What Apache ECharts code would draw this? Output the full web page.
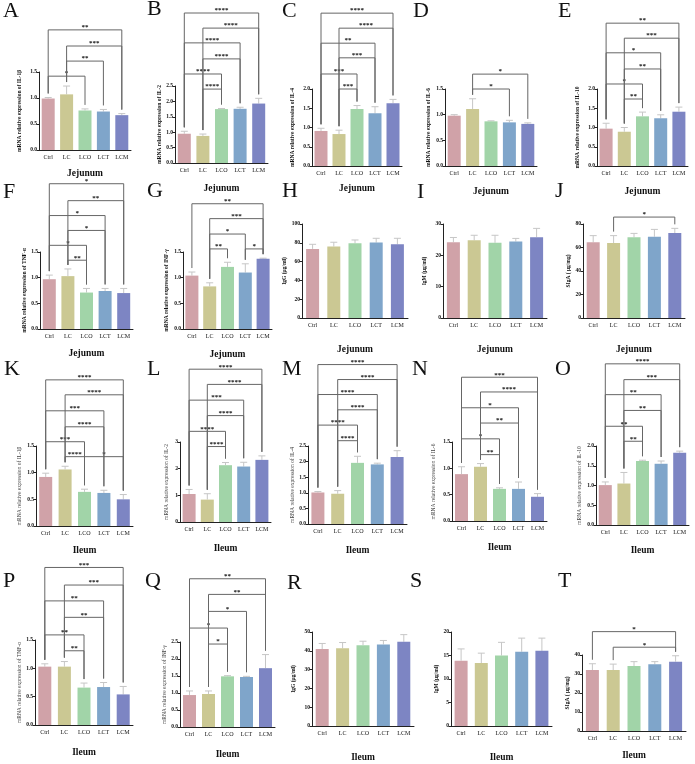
<!DOCTYPE html>
<html>
<head>
<meta charset="utf-8">
<title>Jejunum / Ileum</title>
<script src="https://cdn.jsdelivr.net/npm/echarts@6/dist/echarts.min.js"></script>
<style>
html, body { margin: 0; padding: 0; background: #fff; }
#main { width: 695px; height: 764px; }
</style>
</head>
<body>
<div id="main"></div>
<script>
var groups = ['Ctrl', 'LC', 'LCO', 'LCT', 'LCM'];
var letters = ['A', 'B', 'C', 'D', 'E', 'F', 'G', 'H', 'I', 'J', 'K', 'L', 'M', 'N', 'O', 'P', 'Q', 'R', 'S', 'T'];
var tissues = ['Jejunum', 'Jejunum', 'Jejunum', 'Jejunum', 'Jejunum', 'Jejunum', 'Jejunum', 'Jejunum', 'Jejunum', 'Jejunum',
	'Ileum', 'Ileum', 'Ileum', 'Ileum', 'Ileum', 'Ileum', 'Ileum', 'Ileum', 'Ileum', 'Ileum'];
var yTitles = [
	'mRNA relative expression of IL-1β', 'mRNA relative expression of IL-2', 'mRNA relative expression of IL-4',
	'mRNA relative expression of IL-6', 'mRNA relative expression of IL-10', 'mRNA relative expression of TNF-α',
	'mRNA relative expression of INF-γ', 'IgG (μg/ml)', 'IgM (μg/ml)', 'SIgA ( μg/mg)',
	'mRNA relative expression of IL-1β', 'mRNA relative expression of IL-2', 'mRNA relative expression of IL-4',
	'mRNA relative expression of IL-6', 'mRNA relative expression of IL-10', 'mRNA relative expression of TNF-α',
	'mRNA relative expression of INF-γ', 'IgG (μg/ml)', 'IgM (μg/ml)', 'SIgA ( μg/mg)'
];
var yMax = [1.5, 2.5, 2.0, 1.5, 2.0, 1.5, 1.5, 100, 30, 80, 1.5, 3, 2.5, 1.5, 2.0, 1.5, 2.5, 50, 20, 40];
var yStep = [0.5, 0.5, 0.5, 0.5, 0.5, 0.5, 0.5, 20, 10, 20, 0.5, 1, 0.5, 0.5, 0.5, 0.5, 0.5, 10, 5, 10];

// jejunum
var meanA = [0.99, 1.07, 0.76, 0.74, 0.67], errA = [0.02, 0.16, 0.03, 0.04, 0.03];
var meanB = [0.95, 0.88, 1.75, 1.76, 1.93], errB = [0.08, 0.06, 0.02, 0.05, 0.17];
var meanC = [0.91, 0.83, 1.48, 1.37, 1.63], errC = [0.07, 0.10, 0.09, 0.17, 0.10];
var meanD = [0.98, 1.11, 0.87, 0.85, 0.82], errD = [0.02, 0.20, 0.01, 0.04, 0.02];
var meanE = [0.97, 0.89, 1.29, 1.24, 1.41], errE = [0.14, 0.11, 0.11, 0.09, 0.12];
var meanF = [0.97, 1.03, 0.71, 0.74, 0.70], errF = [0.08, 0.14, 0.08, 0.05, 0.09];
var meanG = [1.04, 0.83, 1.21, 1.10, 1.37], errG = [0.07, 0.07, 0.09, 0.17, 0.01];
var meanH = [73.5, 76.0, 79.5, 80.2, 78.4], errH = [4.9, 4.6, 3.5, 4.6, 6.4];
var meanI = [24.2, 24.8, 24.0, 24.4, 25.8], errI = [1.5, 1.6, 2.4, 1.0, 2.8];
var meanJ = [64.4, 63.8, 68.7, 69.2, 72.3], errJ = [5.7, 6.3, 3.3, 6.2, 4.0];
// ileum
var meanK = [0.92, 1.06, 0.64, 0.62, 0.50], errK = [0.07, 0.06, 0.05, 0.05, 0.09];
var meanL = [1.05, 0.84, 2.13, 2.08, 2.33], errL = [0.17, 0.22, 0.10, 0.16, 0.15];
var meanM = [1.01, 0.97, 1.96, 1.91, 2.15], errM = [0.03, 0.10, 0.21, 0.04, 0.20];
var meanN = [0.89, 1.03, 0.61, 0.61, 0.46], errN = [0.14, 0.06, 0.02, 0.13, 0.06];
var meanO = [1.01, 1.05, 1.62, 1.55, 1.83], errO = [0.08, 0.28, 0.02, 0.07, 0.04];
var meanP = [1.03, 1.03, 0.66, 0.67, 0.54], errP = [0.05, 0.09, 0.08, 0.08, 0.14];
var meanQ = [0.94, 0.97, 1.49, 1.47, 1.73], errQ = [0.12, 0.09, 0.02, 0.02, 0.40];
var meanR = [40.9, 41.3, 43.0, 43.4, 44.8], errR = [3.0, 3.1, 2.1, 2.1, 3.8];
var meanS = [13.9, 13.4, 15.0, 15.8, 16.0], errS = [2.5, 2.1, 2.8, 2.9, 2.7];
var meanT = [32.1, 32.1, 34.2, 35.1, 36.5], errT = [3.3, 3.1, 2.3, 1.4, 3.1];

// significance brackets: [from group, to group, bracket height (axis units), stars]
var sigA = [[0, 2, 1.42, '*'], [1, 3, 1.71, '**'], [1, 4, 2.0, '***'], [0, 4, 2.31, '**']];
var sigB = [[1, 2, 2.40, '****'], [0, 2, 2.89, '****'], [1, 3, 3.38, '****'], [0, 3, 3.90, '****'], [1, 4, 4.38, '****'], [0, 4, 4.87, '****']];
var sigC = [[1, 2, 2.0, '***'], [0, 2, 2.39, '***'], [1, 3, 2.81, '***'], [0, 3, 3.19, '**'], [1, 4, 3.58, '****'], [0, 4, 3.97, '****']];
var sigD = [[1, 3, 1.5, '*'], [1, 4, 1.79, '*']];
var sigE = [[1, 2, 1.74, '**'], [0, 2, 2.13, '*'], [1, 3, 2.52, '**'], [0, 3, 2.94, '*'], [1, 4, 3.32, '***'], [0, 4, 3.71, '**']];
var sigF = [[1, 2, 1.34, '**'], [0, 2, 1.63, '*'], [1, 3, 1.92, '*'], [0, 3, 2.21, '*'], [1, 4, 2.50, '**'], [0, 4, 2.83, '*']];
var sigG = [[1, 2, 1.56, '**'], [3, 4, 1.56, '*'], [1, 3, 1.85, '*'], [1, 4, 2.15, '***'], [0, 4, 2.44, '**']];
var sigH = [];
var sigI = [];
var sigJ = [[1, 4, 85.9, '*']];
var sigK = [[1, 2, 1.30, '****'], [2, 4, 1.30, '*'], [0, 2, 1.58, '***'], [1, 3, 1.86, '****'], [0, 3, 2.16, '***'], [1, 4, 2.46, '****'], [0, 4, 2.74, '****']];
var sigL = [[1, 2, 2.83, '****'], [0, 2, 3.40, '****'], [1, 3, 3.99, '****'], [0, 3, 4.57, '***'], [1, 4, 5.16, '****'], [0, 4, 5.73, '****']];
var sigM = [[1, 2, 2.67, '****'], [0, 2, 3.17, '****'], [1, 3, 3.66, '****'], [0, 3, 4.15, '****'], [1, 4, 4.63, '****'], [0, 4, 5.11, '****']];
var sigN = [[1, 2, 1.26, '**'], [0, 2, 1.56, '*'], [1, 3, 1.86, '**'], [0, 3, 2.15, '*'], [1, 4, 2.45, '****'], [0, 4, 2.73, '***']];
var sigO = [[1, 2, 2.12, '**'], [0, 2, 2.50, '**'], [1, 3, 2.90, '**'], [0, 3, 3.30, '**'], [1, 4, 3.68, '***'], [0, 4, 4.08, '****']];
var sigP = [[1, 2, 1.31, '**'], [0, 2, 1.59, '**'], [1, 3, 1.90, '**'], [0, 3, 2.19, '**'], [1, 4, 2.47, '***'], [0, 4, 2.78, '***']];
var sigQ = [[1, 2, 2.44, '*'], [0, 2, 2.91, '*'], [1, 3, 3.40, '*'], [1, 4, 3.90, '**'], [0, 4, 4.36, '**']];
var sigR = [];
var sigS = [];
var sigT = [[1, 4, 44.1, '*'], [0, 4, 52.3, '*']];

var means = [meanA, meanB, meanC, meanD, meanE, meanF, meanG, meanH, meanI, meanJ,
	meanK, meanL, meanM, meanN, meanO, meanP, meanQ, meanR, meanS, meanT];
var errs = [errA, errB, errC, errD, errE, errF, errG, errH, errI, errJ,
	errK, errL, errM, errN, errO, errP, errQ, errR, errS, errT];
var sigs = [sigA, sigB, sigC, sigD, sigE, sigF, sigG, sigH, sigI, sigJ,
	sigK, sigL, sigM, sigN, sigO, sigP, sigQ, sigR, sigS, sigT];

// layout: left, top, right, bottom of plot, y name gap, x name gap, letter left, letter top
var layout = [
	[39, 72, 131, 150, 16, 19, 3, 0],
	[175, 86, 268, 163, 10, 21, 147, -2],
	[312, 89, 402, 166, 16, 18, 282, 0],
	[445, 89, 537, 166, 13, 21, 413, 0],
	[597, 89, 688, 166, 16, 21, 558, 0],
	[40, 252, 133, 329, 12, 20, 3, 181],
	[183, 252, 272, 329, 13, 21, 147, 180],
	[302, 224, 408, 318, 7, 27, 282, 180],
	[443, 224, 547, 318, 15, 27, 417, 181],
	[583, 224, 685, 318, 8, 27, 555, 180],
	[36, 446, 133, 526, 13, 20, 4, 358],
	[180, 442, 271, 522, 10, 22, 147, 358],
	[308, 446, 407, 524, 7, 22, 282, 358],
	[452, 442, 547, 521, 15, 22, 412, 358],
	[596, 446, 689, 525, 13, 21, 555, 358],
	[35, 640, 133, 725, 6, 23, 3, 570],
	[180, 642, 275, 727, 8, 23, 145, 570],
	[312, 632, 414, 727, 15, 27, 287, 572],
	[451, 632, 552, 727, 6, 27, 410, 570],
	[582, 655, 686, 731, 5, 20, 558, 570]
];

var colors = ['#d0a2a8', '#cbc893', '#a1d4a8', '#7fa5ca', '#7d85c3'];
var serif = '"Liberation Serif", "DejaVu Serif", serif';

function errorItem(params, api) {
	var x = api.value(0);
	var lo = api.coord([x, api.value(1)]);
	var hi = api.coord([x, api.value(2)]);
	var st = { stroke: '#c6c6c6', lineWidth: 1 };
	return {
		type: 'group',
		children: [
			{ type: 'line', shape: { x1: lo[0], y1: lo[1], x2: hi[0], y2: hi[1] }, style: st },
			{ type: 'line', shape: { x1: hi[0] - 3.5, y1: hi[1], x2: hi[0] + 3.5, y2: hi[1] }, style: st }
		]
	};
}

function bracketRenderer(mean, err, sig) {
	return function(params, api) {
		var b = sig[params.dataIndex];
		var pa = api.coord([b[0], b[2]]);
		var pb = api.coord([b[1], b[2]]);
		var ya = api.coord([b[0], mean[b[0]] + err[b[0]]])[1] - 4;
		var yb = api.coord([b[1], mean[b[1]] + err[b[1]]])[1] - 4;
		return {
			type: 'group',
			children: [{
				type: 'polyline',
				shape: { points: [[pa[0], ya], [pa[0], pa[1]], [pb[0], pb[1]], [pb[0], yb]] },
				style: { stroke: '#666', lineWidth: 1, fill: null }
			}, {
				type: 'text',
				style: {
					text: b[3], x: (pa[0] + pb[0]) / 2, y: pa[1] + 1,
					align: 'center', verticalAlign: 'bottom',
					font: 'bold 7px ' + serif, fill: '#111'
				}
			}]
		};
	};
}

var option = {
	animation: false,
	backgroundColor: '#fff',
	grid: [],
	xAxis: [],
	yAxis: [],
	series: [],
	graphic: []
};

letters.forEach(function(letter, k) {
	var box = layout[k];
	var step = yStep[k];
	var ileumMrna = k >= 10 && k <= 16;
	option.grid.push({
		left: box[0], top: box[1], width: box[2] - box[0], height: box[3] - box[1]
	});
	option.xAxis.push({
		type: 'category',
		gridIndex: k,
		data: groups,
		axisLine: { lineStyle: { color: '#222', width: 1 } },
		axisTick: { alignWithLabel: true, length: 2.5, lineStyle: { color: '#222' } },
		axisLabel: { interval: 0, fontSize: 6, margin: 4, color: '#111', fontFamily: serif },
		name: tissues[k],
		nameLocation: 'middle',
		nameGap: box[5],
		nameTextStyle: { fontSize: 9.5, fontWeight: 'bold', fontFamily: serif, color: '#111' }
	});
	option.yAxis.push({
		type: 'value',
		gridIndex: k,
		min: 0,
		max: yMax[k],
		interval: step,
		splitLine: { show: false },
		axisLine: { show: true, lineStyle: { color: '#222', width: 1 } },
		axisTick: { show: true, length: 2.5, lineStyle: { color: '#222' } },
		axisLabel: {
			fontSize: 5.5, margin: 2, color: '#111', fontFamily: serif, fontWeight: 'bold',
			formatter: function(v) { return step < 1 ? v.toFixed(1) : String(v); }
		},
		name: yTitles[k],
		nameLocation: 'middle',
		nameRotate: 90,
		nameGap: box[4],
		nameTextStyle: {
			fontSize: 5.5, fontFamily: serif,
			fontWeight: ileumMrna ? 'normal' : 'bold',
			color: ileumMrna ? '#444' : '#111'
		}
	});
	option.series.push({
		type: 'bar',
		xAxisIndex: k,
		yAxisIndex: k,
		barWidth: 13,
		silent: true,
		data: means[k].map(function(v, i) {
			return { value: v, itemStyle: { color: colors[i] } };
		})
	});
	option.series.push({
		type: 'custom',
		xAxisIndex: k,
		yAxisIndex: k,
		clip: false,
		silent: true,
		renderItem: errorItem,
		data: means[k].map(function(v, i) { return [i, v, v + errs[k][i]]; })
	});
	if (sigs[k].length) {
		option.series.push({
			type: 'custom',
			xAxisIndex: k,
			yAxisIndex: k,
			clip: false,
			silent: true,
			renderItem: bracketRenderer(means[k], errs[k], sigs[k]),
			data: sigs[k].map(function(b) { return [b[0], b[2]]; })
		});
	}
	option.graphic.push({
		type: 'text',
		left: box[6],
		top: box[7],
		silent: true,
		style: { text: letter, font: '22px ' + serif, fill: '#111' }
	});
});

var chart = echarts.init(document.getElementById('main'));
chart.setOption(option);
window.addEventListener('resize', chart.resize);
</script>
</body>
</html>
